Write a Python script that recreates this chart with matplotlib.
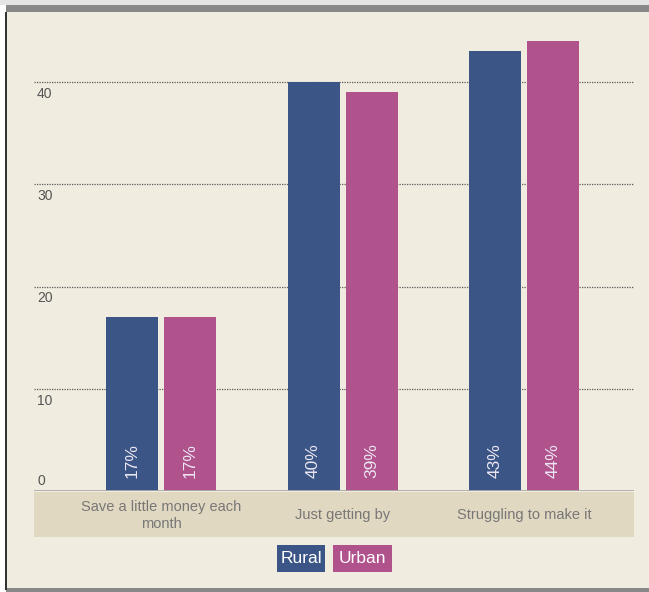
import numpy as np
import matplotlib
matplotlib.use('Agg')
import matplotlib.pyplot as plt
from matplotlib.patches import Rectangle
import matplotlib.transforms as mtransforms

# ── data ──────────────────────────────────────────────────────────────────────
categories = ["Save a little money each\nmonth", "Just getting by", "Struggling to make it"]
rural = [17, 40, 43]
urban = [17, 39, 44]
series_names = ["Rural", "Urban"]
yticks = [0, 10, 20, 30, 40]

RURAL_C = "#3b5686"
URBAN_C = "#b0528c"
BG = "#f1ece0"
BAND = "#e1d8c1"
FRAME = "#888888"

plt.rcParams['font.family'] = ['Liberation Sans', 'DejaVu Sans']

W, H = 649, 592
fig = plt.figure(figsize=(W / 100, H / 100), dpi=100)
fig.patch.set_facecolor("white")

def fig_rect(x0, y0, x1, y1, color, z=-2):
    # pixel coords, y from top
    r = Rectangle((x0 / W, 1 - y1 / H), (x1 - x0) / W, (y1 - y0) / H,
                  transform=fig.transFigure, color=color, zorder=z, lw=0)
    fig.patches.append(r)
    return r

fig_rect(0, 0, W, 5, "#e4e4e4")
fig_rect(6, 5, W, 590, BG)
fig_rect(6, 5, W, 12, FRAME)
fig_rect(6, 588, W, 592, FRAME)
fig_rect(5, 12, 7, 590, "#333333")
fig_rect(34, 492, 634, 537, BAND, z=-1)

# ── axes ──────────────────────────────────────────────────────────────────────
ax_l, ax_r, ax_b, ax_t = 34, 634, 491, 12
ax = fig.add_axes([ax_l / W, 1 - ax_b / H, (ax_r - ax_l) / W, (ax_b - ax_t) / H])
ax.set_facecolor("none")

x = np.arange(len(categories))
px = 181.5  # pixels per category
bw = 52 / px
off = 29 / px
ax.bar(x - off, rural, width=bw, color=RURAL_C, zorder=3)
ax.bar(x + off, urban, width=bw, color=URBAN_C, zorder=3)

ax.set_xlim((ax_l - 161) / px, (ax_r - 161) / px)
ax.set_ylim(0, (ax_b - ax_t) / 10.225)

for v in yticks[1:]:
    ax.axhline(v, color="#5a5a5a", lw=0.9, ls=(0, (1, 1)), zorder=1)
ax.axhline(0, color="#aaaaaa", lw=2, zorder=4)

trans = mtransforms.blended_transform_factory(ax.transAxes, ax.transData)
for v in yticks:
    ax.annotate(str(v), xy=(0.005, v), xycoords=trans,
                xytext=(0, -3.5 if v else 2.5), textcoords="offset points",
                ha="left", va="top" if v else "bottom", fontsize=10, color="#555555")

for i in range(len(categories)):
    for xv, val in ((x[i] - off, rural[i]), (x[i] + off, urban[i])):
        ax.annotate(f"{val}%", xy=(xv, 0), xytext=(0, 9), textcoords="offset points",
                    rotation=90, ha="center", va="bottom", fontsize=12.5, color="#ece6f2")

# category labels, centred in the band
for xi, lab in zip(x, categories):
    ax.annotate(lab, xy=(xi, 0), xytext=(0, -17.5), textcoords="offset points",
                ha="center", va="center", multialignment="center",
                fontsize=10.5, color="#777777", linespacing=1.25)

ax.set_xticks([])
ax.set_yticks([])
for s in ax.spines.values():
    s.set_visible(False)

# ── legend boxes ──────────────────────────────────────────────────────────────
for name, col, (x0, x1) in ((series_names[0], RURAL_C, (277, 325)),
                            (series_names[1], URBAN_C, (333, 392))):
    fig_rect(x0, 545, x1, 572, col, z=1)
    fig.text((x0 + x1) / 2 / W, 1 - 558.5 / H, name, ha="center", va="center",
             fontsize=12.5, color="white", zorder=2)

fig.savefig("out.png", dpi=100, facecolor=fig.get_facecolor())
